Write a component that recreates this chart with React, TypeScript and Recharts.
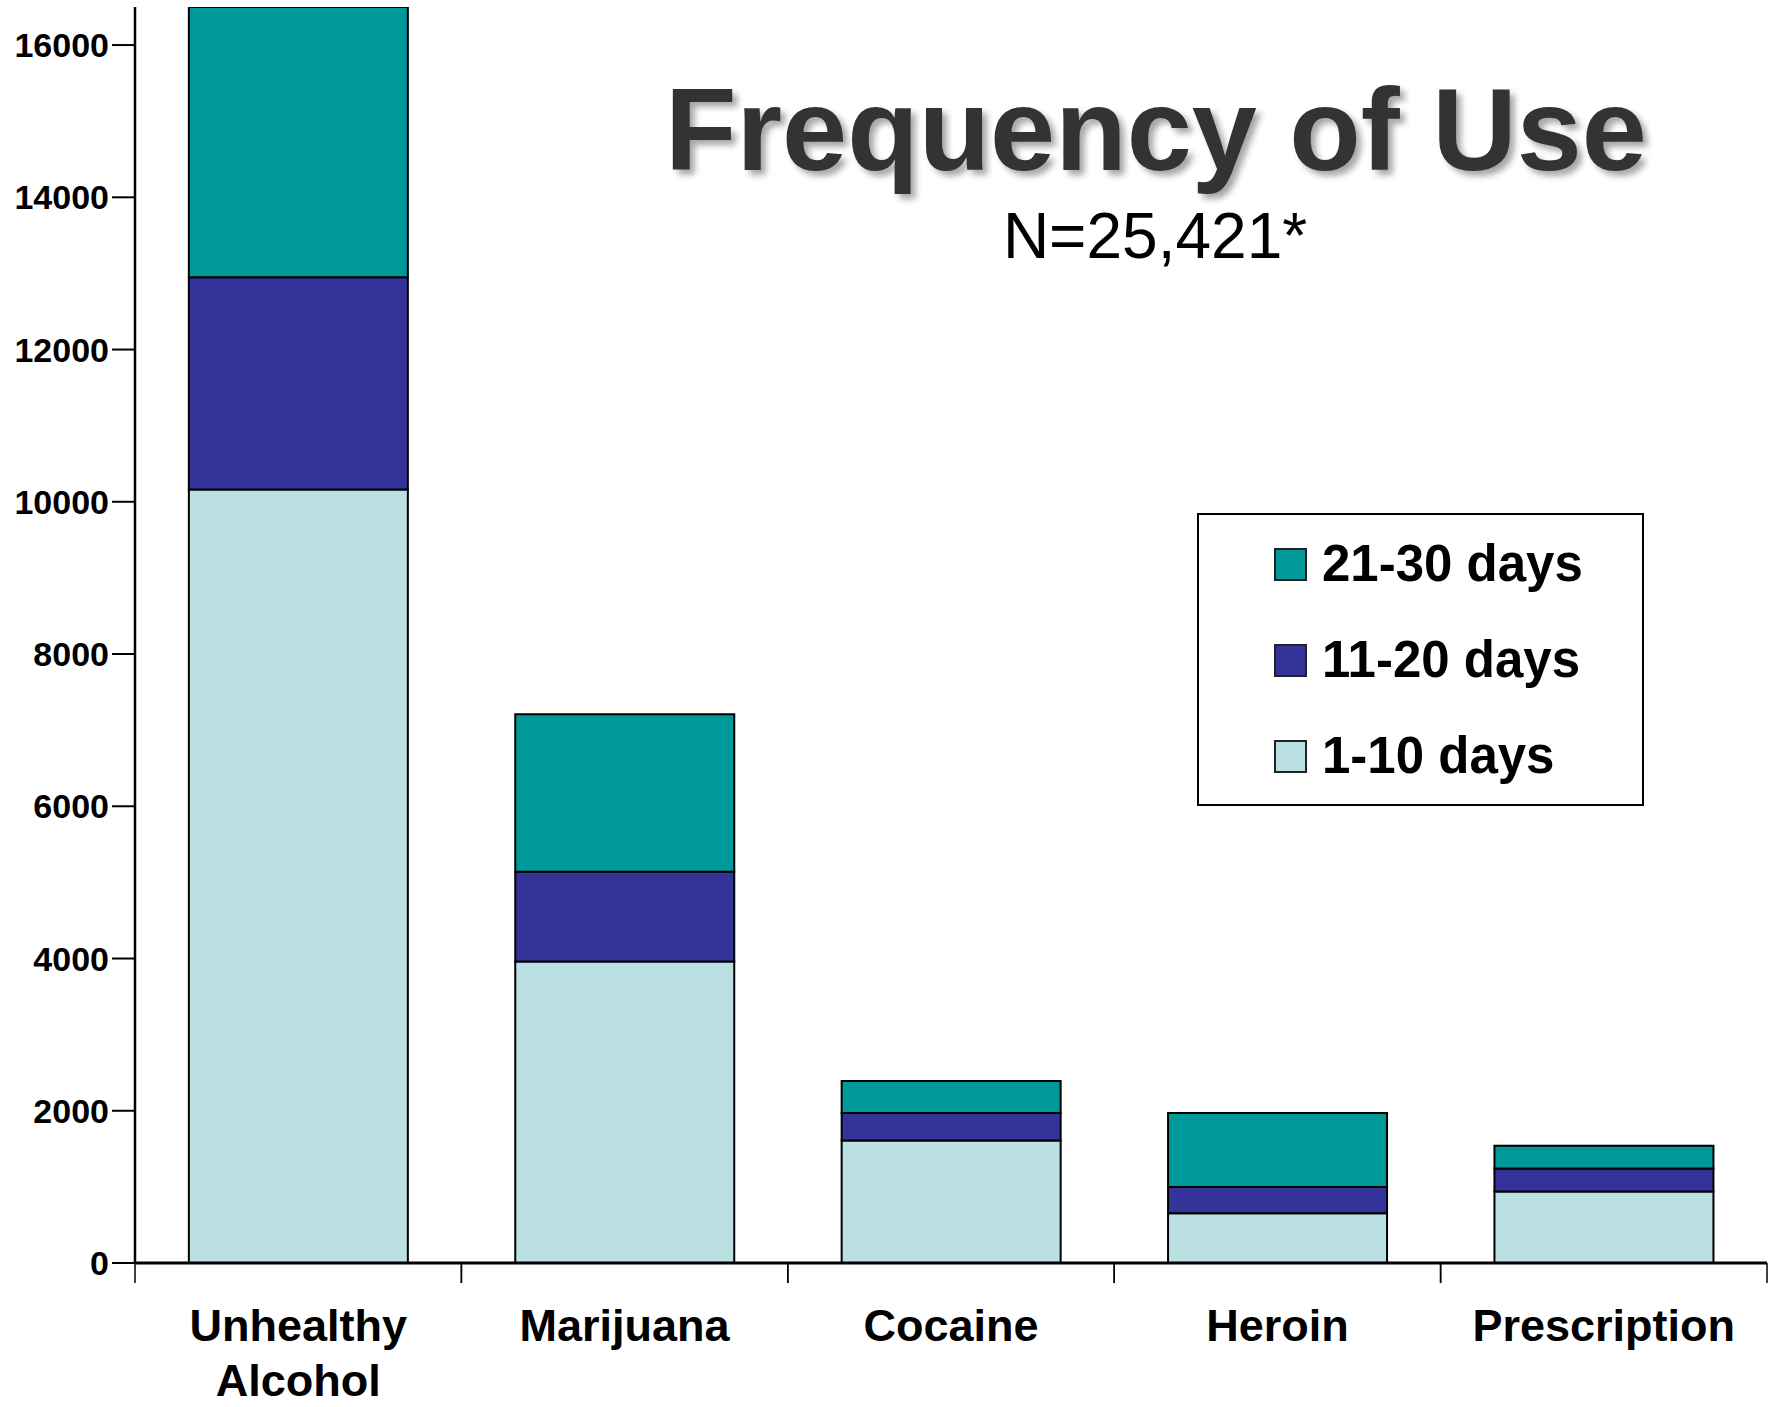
import { BarChart, Bar, XAxis, YAxis } from "recharts";

const categories = ["Unhealthy\nAlcohol", "Marijuana", "Cocaine", "Heroin", "Prescription"];
const days1to10 = [10160, 3960, 1610, 655, 940];
const days11to20 = [2790, 1180, 360, 345, 300];
const days21to30 = [3560, 2070, 420, 970, 300];
const yTicks = [0, 2000, 4000, 6000, 8000, 10000, 12000, 14000, 16000];

const series = [
  { key: "d1", name: "1-10 days", color: "#BBE0E3", values: days1to10 },
  { key: "d2", name: "11-20 days", color: "#333399", values: days11to20 },
  { key: "d3", name: "21-30 days", color: "#009999", values: days21to30 },
];

const data = categories.map((name, i) => {
  const row: Record<string, string | number> = { name };
  series.forEach((s) => {
    row[s.key] = s.values[i];
  });
  return row;
});

const FONT = '"Liberation Sans", Arial, Helvetica, sans-serif';

function CategoryTick(props: any) {
  const { x, y, payload } = props;
  const half = payload && payload.offset ? payload.offset : 163;
  const lines = String(payload.value).split("\n");
  return (
    <g>
      <line x1={x - half} x2={x - half} y1={y} y2={y + 20} stroke="#000" strokeWidth={1.5} />
      <line x1={x + half} x2={x + half} y1={y} y2={y + 20} stroke="#000" strokeWidth={1.5} />
      <text x={x} y={y + 78} textAnchor="middle" fontFamily={FONT} fontWeight="bold" fontSize={45} fill="#000">
        {lines.map((l, i) => (
          <tspan key={i} x={x} dy={i === 0 ? 0 : 55}>
            {l}
          </tspan>
        ))}
      </text>
    </g>
  );
}

export default function App() {
  const legendItems = [...series].reverse();
  return (
    <div style={{ position: "absolute", left: 0, top: 0, width: 1778, height: 1407, background: "#fff" }}>
      <BarChart
        width={1778}
        height={1407}
        data={data}
        margin={{ top: 7, right: 11, left: 0, bottom: 0 }}
        barCategoryGap="16.5%"
      >
        <XAxis
          dataKey="name"
          height={144}
          interval={0}
          tickLine={false}
          tickSize={0}
          tickMargin={0}
          axisLine={{ stroke: "#000", strokeWidth: 3 }}
          tick={<CategoryTick />}
        />
        <YAxis
          width={135}
          domain={[0, 16500]}
          ticks={yTicks}
          allowDataOverflow
          tickSize={23}
          tickMargin={3}
          axisLine={{ stroke: "#000", strokeWidth: 2.5 }}
          tickLine={{ stroke: "#000", strokeWidth: 2 }}
          tick={{ fill: "#000", fontSize: 34, fontWeight: "bold", fontFamily: FONT }}
        />
        {series.map((s) => (
          <Bar
            key={s.key}
            dataKey={s.key}
            name={s.name}
            stackId="a"
            fill={s.color}
            stroke="#000"
            strokeWidth={2}
            isAnimationActive={false}
          />
        ))}
      </BarChart>

      <svg
        width={1778}
        height={300}
        style={{ position: "absolute", left: 0, top: 0, pointerEvents: "none", overflow: "visible" }}
      >
        <text
          x={1156}
          y={170}
          textAnchor="middle"
          fontFamily={FONT}
          fontWeight="bold"
          fontSize={117}
          fill="#333333"
          style={{ filter: "drop-shadow(5px 5px 3px rgba(0,0,0,0.35))" }}
        >
          Frequency of Use
        </text>
        <text x={1155} y={258} textAnchor="middle" fontFamily={FONT} fontSize={64} fill="#000">
          N=25,421*
        </text>
      </svg>

      <div
        style={{
          position: "absolute",
          left: 1197,
          top: 513,
          width: 447,
          height: 293,
          boxSizing: "border-box",
          border: "2px solid #000",
          background: "#fff",
          fontFamily: FONT,
        }}
      >
        {legendItems.map((s, i) => (
          <div
            key={s.key}
            style={{
              position: "absolute",
              left: 75,
              top: 49 + i * 96 - 30,
              height: 60,
              display: "flex",
              alignItems: "center",
            }}
          >
            <div
              style={{
                width: 33,
                height: 33,
                boxSizing: "border-box",
                background: s.color,
                border: "2px solid #222",
                marginRight: 15,
              }}
            />
            <span style={{ fontSize: 51, fontWeight: "bold", color: "#000", lineHeight: "60px", whiteSpace: "nowrap" }}>
              {s.name}
            </span>
          </div>
        ))}
      </div>
    </div>
  );
}
